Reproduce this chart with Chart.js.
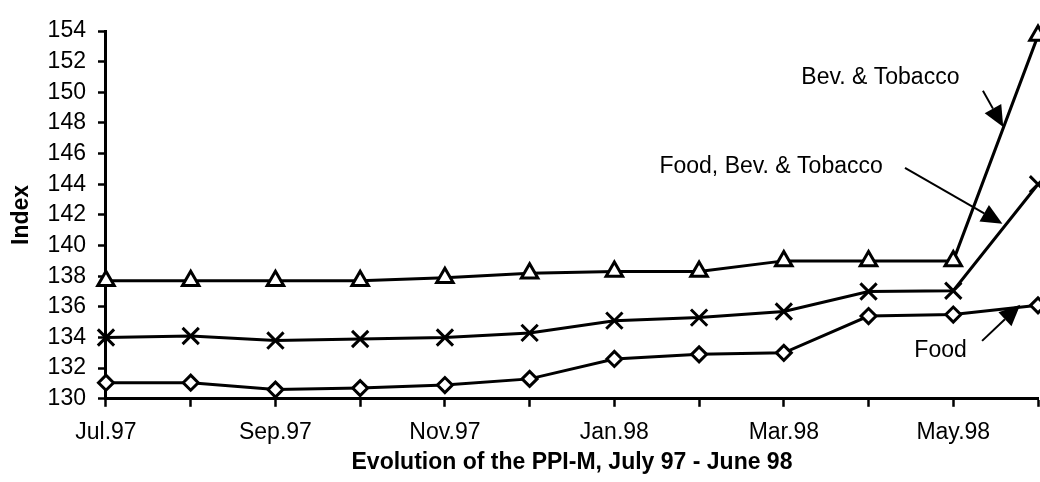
<!DOCTYPE html>
<html lang="en">
  <head>
    <meta charset="UTF-8" />
    <title>PPI-M</title>
    <script src="https://cdn.jsdelivr.net/npm/chart.js"></script>
    <style>
      html, body { margin: 0; padding: 0; background: #fff; }
      .wrap { width: 1040px; height: 482px; }
    </style>
  </head>
  <body>
    <div class="wrap"><canvas id="ppiChart" width="1040" height="482"></canvas></div>

    <script>
      // months on the x axis
      const months = ["Jul.97", "Aug.97", "Sep.97", "Oct.97", "Nov.97", "Dec.97",
                      "Jan.98", "Feb.98", "Mar.98", "Apr.98", "May.98", "Jun.98"];

      // index values
      const bevTobacco = [137.7, 137.7, 137.7, 137.7, 137.9, 138.2, 138.3, 138.3, 139.0, 139.0, 139.0, 153.7];
      const foodBevTobacco = [134.0, 134.1, 133.8, 133.9, 134.0, 134.3, 135.1, 135.3, 135.7, 137.0, 137.05, 144.0];
      const food = [131.05, 131.05, 130.6, 130.7, 130.9, 131.3, 132.6, 132.9, 133.0, 135.4, 135.5, 136.1];

      // callout labels, in data units (x = month index, y = index value)
      const callouts = [
        { text: "Bev. & Tobacco", x: 9.14, y: 150.94, from: [10.35, 150.1], to: [10.59, 147.74] },
        { text: "Food, Bev. & Tobacco", x: 7.85, y: 145.13, from: [9.43, 145.07], to: [10.58, 141.42] },
        { text: "Food", x: 9.85, y: 133.13, from: [10.34, 133.78], to: [10.79, 136.13] },
      ];

      const FONT = "'Liberation Sans', Arial, sans-serif";

      // draws the text labels with arrows pointing at the lines
      const calloutPlugin = {
        id: "callouts",
        afterDatasetsDraw(chart) {
          const ctx = chart.ctx;
          const xs = chart.scales.x;
          const ys = chart.scales.y;
          ctx.save();
          ctx.fillStyle = "#000";
          ctx.strokeStyle = "#000";
          ctx.font = "23px " + FONT;
          ctx.textAlign = "center";
          ctx.textBaseline = "middle";
          callouts.forEach((c) => {
            ctx.fillText(c.text, xs.getPixelForValue(c.x), ys.getPixelForValue(c.y));
            const x1 = xs.getPixelForValue(c.from[0]);
            const y1 = ys.getPixelForValue(c.from[1]);
            const x2 = xs.getPixelForValue(c.to[0]);
            const y2 = ys.getPixelForValue(c.to[1]);
            const ang = Math.atan2(y2 - y1, x2 - x1);
            const headLen = 21;
            const headW = 9.5;
            const bx = x2 - headLen * Math.cos(ang);
            const by = y2 - headLen * Math.sin(ang);
            ctx.lineWidth = 2;
            ctx.beginPath();
            ctx.moveTo(x1, y1);
            ctx.lineTo(bx, by);
            ctx.stroke();
            ctx.beginPath();
            ctx.moveTo(x2, y2);
            ctx.lineTo(bx + headW * Math.sin(ang), by - headW * Math.cos(ang));
            ctx.lineTo(bx - headW * Math.sin(ang), by + headW * Math.cos(ang));
            ctx.closePath();
            ctx.fill();
          });
          ctx.restore();
        },
      };

      function series(label, data, style, radius) {
        return {
          label: label,
          data: data,
          borderColor: "#000",
          borderWidth: 3,
          backgroundColor: "#fff",
          pointStyle: style,
          pointRadius: radius,
          pointBorderColor: "#000",
          pointBackgroundColor: "#fff",
          pointBorderWidth: 3,
          tension: 0,
          clip: false,
        };
      }

      const ctx = document.getElementById("ppiChart").getContext("2d");
      new Chart(ctx, {
        type: "line",
        data: {
          labels: months,
          datasets: [
            series("Bev. & Tobacco", bevTobacco, "triangle", 9.5),
            series("Food, Bev. & Tobacco", foodBevTobacco, "crossRot", 11.5),
            series("Food", food, "rectRot", 7.5),
          ],
        },
        options: {
          responsive: false,
          animation: false,
          layout: { autoPadding: false, padding: { left: 8, right: 2, top: 31, bottom: 0 } },
          plugins: {
            legend: { display: false },
            tooltip: { enabled: false },
          },
          scales: {
            x: {
              offset: false,
              grid: { display: true, drawOnChartArea: false, drawTicks: true, tickLength: 8, tickColor: "#000", tickWidth: 2.5 },
              border: { display: true, color: "#000", width: 3 },
              ticks: {
                autoSkip: false,
                maxRotation: 0,
                padding: 12,
                color: "#000",
                font: { family: FONT, size: 23 },
                callback: (v, i) => (i % 2 === 0 ? months[i] : ""),
              },
              title: {
                display: true,
                text: "Evolution of the PPI-M, July 97 - June 98",
                color: "#000",
                font: { family: FONT, size: 23, weight: "bold" },
                padding: { top: -10, bottom: 6 },
              },
              // the last label is empty, so no room is needed on the right
              afterFit: (scale) => { scale.paddingRight = 0; },
            },
            y: {
              min: 130,
              max: 154,
              grid: { display: true, drawOnChartArea: false, drawTicks: true, tickLength: 8, tickColor: "#000", tickWidth: 2.5 },
              border: { display: true, color: "#000", width: 3 },
              ticks: {
                stepSize: 2,
                autoSkip: false,
                padding: 12,
                color: "#000",
                font: { family: FONT, size: 23 },
              },
              title: {
                display: true,
                text: "Index",
                color: "#000",
                font: { family: FONT, size: 23, weight: "bold" },
                padding: { top: 0, bottom: 0 },
              },
            },
          },
        },
        plugins: [calloutPlugin],
      });
    </script>
  </body>
</html>
